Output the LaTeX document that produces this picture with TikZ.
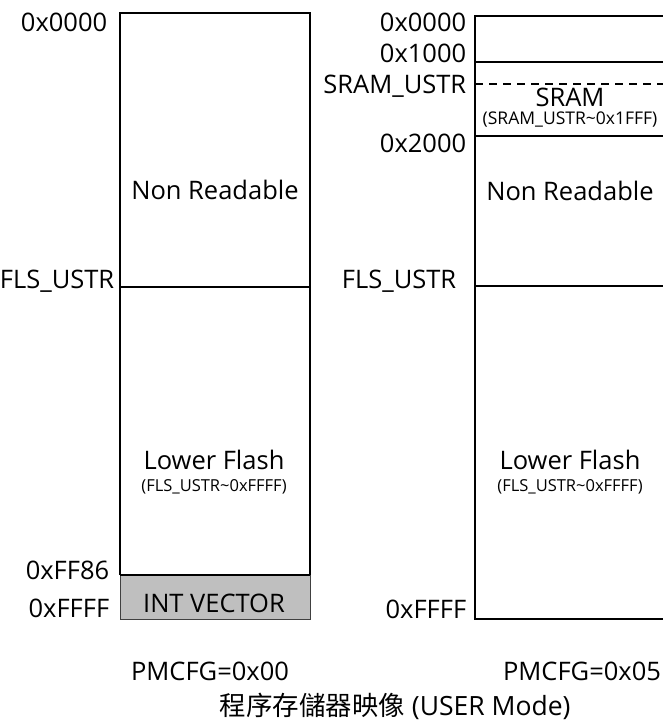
\documentclass[tikz,border=0pt]{standalone}
\usepackage{fontspec}
\setmainfont{Open Sans}
\newfontfamily\cjkfont{Noto Sans CJK TC}
\usepackage{tikz}
\usetikzlibrary{positioning}
\definecolor{vecgray}{RGB}{191,191,191}

\begin{document}
\begin{tikzpicture}[x=1pt, y=-1pt, line width=1.6pt,
        addr/.style={anchor=base east, inner sep=0pt, font=\fontsize{25.5}{30}\selectfont},
        area/.style={anchor=base, inner sep=0pt, font=\fontsize{25.5}{30}\selectfont},
        subrange/.style={anchor=base, inner sep=0pt, font=\fontsize{16.5}{19}\selectfont}]
        \clip (0,0) rectangle (663,725);
        % Left map
        \filldraw [fill=vecgray, draw=black!75, line width=0.8pt] (120,575) rectangle (310,619);
        \draw (120,575) -- (120,13) -- (310,13) -- (310,575);
        \draw (120,287) -- (310,287);
        \draw (120,575) -- (310,575);
        \node[addr] (l0000) at (108,32) {0x0000};
        \node[addr] (lfls) at (115,288) {FLS\_USTR};
        \node[addr] (lff86) at (110,579) {0xFF86};
        \node[addr] (lffff) at (110,617) {0xFFFF};
        \node[area] (lnonread) at (215,199) {Non Readable};
        \node[area] (lflash) at (214,469) {Lower Flash};
        \node[subrange] (lflashrange) at (214,491) {(FLS\_USTR\textasciitilde 0xFFFF)};
        \node[area] (lvector) at (214,612) {INT VECTOR};
        \node[area] (lcfg) at (210,680) {PMCFG=0x00};
        % Right map
        \draw (670,16) -- (475,16) -- (475,619) -- (670,619);
        \draw (475,62) -- (670,62);
        \draw [line width=1.2pt, dash pattern=on 8pt off 6pt] (475,84) -- (670,84);
        \draw (475,136) -- (670,136);
        \draw (475,286) -- (670,286);
        \node[addr] (r0000) at (467,32) {0x0000};
        \node[addr] (r1000) at (467,63) {0x1000};
        \node[addr] (rsram) at (467,93) {SRAM\_USTR};
        \node[addr] (r2000) at (467,152) {0x2000};
        \node[addr] (rfls) at (457,288) {FLS\_USTR};
        \node[addr] (rffff) at (467,618) {0xFFFF};
        \node[area] (rsramarea) at (570,106) {SRAM};
        \node[subrange, font=\fontsize{17.5}{20}\selectfont] (rsramrange) at (570,124) {(SRAM\_USTR\textasciitilde 0x1FFF)};
        \node[area] (rnonread) at (570,200) {Non Readable};
        \node[area] (rflash) at (570,469) {Lower Flash};
        \node[subrange] (rflashrange) at (570,491) {(FLS\_USTR\textasciitilde 0xFFFF)};
        \node[area] (rcfg) at (582,680) {PMCFG=0x05};
        % Caption
        \node[area, font=\fontsize{26.5}{30}\selectfont] (caption) at (395,715) {{\cjkfont 程序存儲器映像} (USER Mode)};
    \end{tikzpicture}
\end{document}
